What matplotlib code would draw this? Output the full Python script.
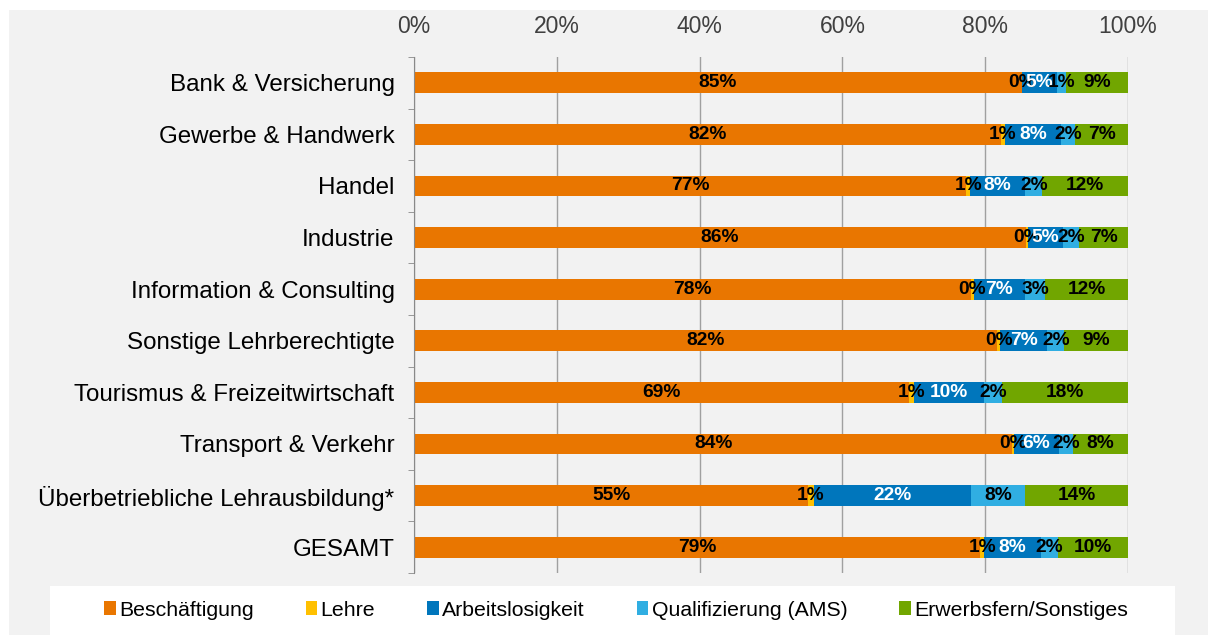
import matplotlib.pyplot as plt
from matplotlib.patches import Patch, Rectangle
import numpy as np

plt.rcParams['font.family'] = ['Liberation Sans', 'DejaVu Sans']

categories = ['Bank & Versicherung', 'Gewerbe & Handwerk', 'Handel', 'Industrie',
              'Information & Consulting', 'Sonstige Lehrberechtigte',
              'Tourismus & Freizeitwirtschaft', 'Transport & Verkehr',
              'Überbetriebliche Lehrausbildung*', 'GESAMT']

# shares in percent per category
beschaeftigung = [85.1, 82.2, 77.3, 85.7, 78.0, 81.7, 69.3, 83.8, 55.2, 79.3]
lehre          = [0.1, 0.6, 0.6, 0.3, 0.4, 0.4, 0.7, 0.2, 0.8, 0.6]
arbeitslos     = [4.8, 7.8, 7.7, 4.9, 7.2, 6.6, 9.9, 6.3, 22.0, 7.9]
qualifizierung = [1.3, 2.0, 2.4, 2.3, 2.8, 2.4, 2.4, 2.0, 7.6, 2.4]
erwerbsfern    = [8.7, 7.4, 12.0, 6.8, 11.6, 8.9, 17.7, 7.7, 14.4, 9.8]

series = ['Beschäftigung', 'Lehre', 'Arbeitslosigkeit', 'Qualifizierung (AMS)',
          'Erwerbsfern/Sonstiges']
colors = ['#E97600', '#FFC000', '#0076BC', '#30AEE2', '#71A600']
label_colors = ['black', 'black', 'white', 'black', 'black']
data = [beschaeftigung, lehre, arbeitslos, qualifizierung, erwerbsfern]

fig = plt.figure(figsize=(12.08, 6.35), dpi=100, facecolor='white')
# grey panel and white legend box behind everything
fig.patches.append(Rectangle((9 / 1208, 0), 1 - 9 / 1208, 1 - 10 / 635,
                             transform=fig.transFigure, facecolor='#F2F2F2',
                             edgecolor='none', zorder=-2))
fig.patches.append(Rectangle((50 / 1208, 0), 1125 / 1208, 49 / 635,
                             transform=fig.transFigure, facecolor='white',
                             edgecolor='none', zorder=-1))

ax = fig.add_axes([414 / 1208, 1 - 573 / 635, 714 / 1208, 516 / 635])
ax.set_facecolor('none')

y = np.arange(len(categories))
left = np.zeros(len(categories))
for vals, col, lcol, name in zip(data, colors, label_colors, series):
    vals = np.array(vals)
    ax.barh(y, vals, left=left, height=0.4, color=col, label=name, zorder=2)
    for yi, l, v in zip(y, left, vals):
        ax.text(l + v / 2, yi, f'{round(v):.0f}%', ha='center', va='center',
                fontsize=13.8, fontweight='bold', color=lcol, zorder=3)
    left += vals

ax.set_xlim(0, 100)
ax.set_ylim(len(categories) - 0.5, -0.5)
ax.set_xticks(np.arange(0, 101, 20))
ax.set_xticklabels([f'{t}%' for t in range(0, 101, 20)])
ax.xaxis.tick_top()
ax.tick_params(axis='x', length=0, pad=14, labelsize=16.5, colors='#404040')
ax.grid(axis='x', color='#A0A0A0', linewidth=1, zorder=1)

ax.set_yticks(y)
ax.set_yticklabels(categories)
ax.set_yticks(np.arange(-0.5, len(categories)), minor=True)
ax.tick_params(axis='y', which='major', length=0, pad=14, labelsize=17.4)
ax.tick_params(axis='y', which='minor', length=4, color='#898989', direction='out')

for s in ['top', 'right', 'bottom']:
    ax.spines[s].set_visible(False)
ax.spines['left'].set_color('#898989')

handles = [Patch(facecolor=c, label=n) for c, n in zip(colors, series)]
fig.legend(handles=handles, loc='center', bbox_to_anchor=(616 / 1208, 1 - 610 / 635),
           ncol=5, frameon=False, fontsize=15.3, handlelength=0.55, handleheight=0.6,
           handletextpad=0.15, columnspacing=2.45)

fig.savefig('out.png', dpi=100, facecolor='white')
